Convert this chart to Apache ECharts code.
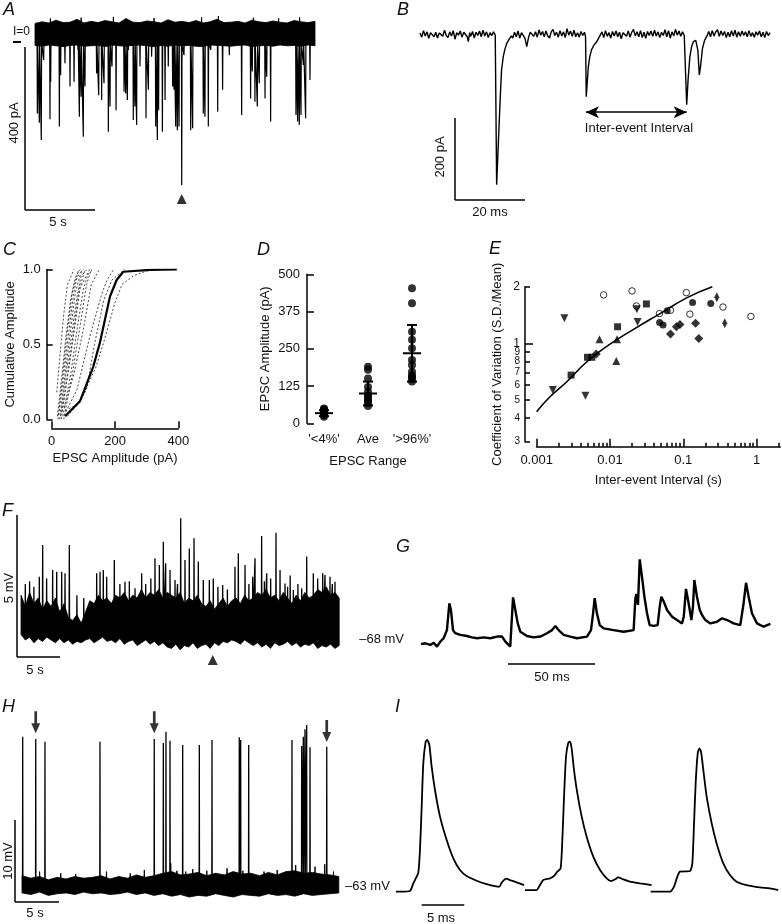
<!DOCTYPE html>
<html><head><meta charset="utf-8">
<script src="https://cdn.jsdelivr.net/npm/echarts@6/dist/echarts.min.js"></script>
<style>html,body{margin:0;padding:0;background:#fff}#c{width:782px;height:924px}</style>
</head><body><div id="c"></div>
<script>
// ---------------- DATA ----------------
// Panel A: EPSC events (time s, amplitude pA), noise band edges every 0.5 s
const aEvents = [[0.17,-195],[0.31,-218],[0.45,-260],[0.62,-64],[1.07,-209],[1.12,-117],[1.74,-227],[1.83,-101],[2.14,-72],[2.5,-129],[2.79,-117],[3.07,-39],[3.17,-203],[3.29,-154],[3.45,-252],[3.57,-129],[4.4,-97],[4.55,-150],[4.76,-162],[4.93,-121],[5.24,-240],[5.36,-178],[5.5,-80],[5.79,-187],[6.36,-142],[6.48,-146],[6.6,-162],[6.67,-39],[7.02,-211],[7.14,-178],[7.26,-223],[7.5,-80],[7.93,-207],[8.1,-137],[8.33,-56],[8.62,-227],[8.74,-260],[8.83,-187],[9.1,-240],[9.29,-162],[9.52,-80],[9.83,-129],[9.93,-137],[10.05,-227],[10.17,-236],[10.29,-227],[10.48,-371],[10.64,-52],[11.12,-236],[11.26,-231],[11.67,-31],[12.02,-195],[12.14,-203],[12.38,-227],[12.55,-39],[13.05,-191],[13.4,-137],[13.88,-52],[14.76,-199],[15.4,-158],[15.52,-92],[15.71,-166],[15.88,-178],[16.02,-121],[16.43,-158],[16.55,-105],[16.83,-215],[18.64,-199],[18.76,-215],[18.88,-223],[19.0,-199],[19.17,-76],[19.33,-207],[19.64,-113]];
const aUpSpikes = [[1.1,38],[3.3,40],[5.6,42],[8.5,39],[11.9,41],[13.1,44],[15.6,40],[17.4,39],[18.9,41]];
const aStep = 0.5;
const aUp = [26,30,27,34,28,29,36,27,31,28,33,30,27,38,29,28,32,30,27,35,29,31,28,33,27,30,36,28,29,31,27,34,30,28,32,29,27,33,30,28,31];
const aLow = [-28,-30,-27,-29,-31,-28,-27,-30,-29,-28,-31,-27,-29,-30,-28,-27,-29,-31,-28,-30,-27,-29,-28,-30,-31,-27,-28,-29,-30,-28,-27,-31,-29,-28,-30,-27,-29,-28,-30,-27,-29];
const aArrow = [10.48, -405];

// Panel B: trace (ms, pA)
const bTrace = [[0,3],[0.5,-7],[1,9],[1.5,-4],[2,6],[2.5,-10],[3,4],[3.5,8],[4,-6],[4.5,5],[5,-9],[5.5,3],[6,7],[6.5,-5],[7,10],[7.5,-3],[8,-8],[8.5,6],[9,-4],[9.5,9],[10,-12],[10.5,4],[11,-2],[11.5,8],[12,-7],[12.5,5],[13,9],[13.5,-6],[13.8,-18],[14.2,4],[14.5,-5],[15,7],[15.5,-9],[16,5],[16.5,-3],[17,8],[17.5,-6],[18,10],[18.5,-4],[19,6],[19.5,-8],[20,4],[20.5,-3],[21,6],[21.5,-2],
[21.7,-4],[21.9,-367],[22.5,-241],[22.9,-160],[23.3,-87],[23.8,-54],[24.3,-35],[24.8,-22],[25.2,-16],[25.7,-12],[26.1,-4],[26.5,-9],
[27,5],[27.5,-6],[28,8],[28.5,-9],[29,4],[29.5,7],[30,-10],[30.5,-30],[31,-8],[31.5,5],[32,9],[32.5,-5],[33,6],[33.5,-7],[34,11],[34.5,-2],[35,7],[35.5,-6],[36,8],[36.5,-4],[37,-9],[37.5,6],[38,12],[38.5,-3],[39,5],[39.5,-7],[40,9],[40.5,-4],[41,6],[41.5,-8],[42,14],[42.5,-2],[43,8],[43.5,-5],[44,10],[44.5,-6],[45,4],[45.5,-7],[46,7],[46.5,-3],[47,5],
[47.3,-6],[47.5,-152],[48.1,-79],[48.5,-55],[49,-38],[49.7,-26],[50.5,-18],[51,-10],[51.5,-6],
[52,6],[52.5,-8],[53,9],[53.5,-5],[54,4],[54.5,-9],[55,7],[55.5,-4],[56,8],[56.5,-6],[57,5],[57.5,-11],[58,4],[58.5,7],[59,-5],[59.5,8],[60,-7],[60.5,5],[61,12],[61.5,-4],[62,6],[62.5,-6],[63,9],[63.5,-8],[64,5],[64.5,-10],[65,7],[65.5,-3],[66,8],[66.5,-5],[67,10],[67.5,-4],[68,6],[68.5,-8],[69,5],[69.5,-3],[70,11],[70.5,-6],[71,9],[71.5,-9],[72,6],[72.5,-4],[73,12],[73.5,-2],[74,8],[74.5,-5],[75,6],[75.5,-3],
[76.0,-5],[76.2,-172],[76.6,-110],[77.1,-55],[77.6,-30],[78.1,-18],[78.8,-15],[79.4,-40],[79.8,-99],[80.2,-75],[80.7,-35],[81.3,-15],[82,-4],
[82.5,7],[83,-6],[83.5,9],[84,-4],[84.5,6],[85,11],[85.5,-5],[86,8],[86.5,-3],[87,7],[87.5,-8],[88,5],[88.5,-6],[89,9],[89.5,-4],[90,10],[90.5,-7],[91,6],[91.5,-5],[92,8],[92.5,-3],[93,6],[93.5,-6],[94,9],[94.5,-5],[95,4],[95.5,-7],[96,6],[96.5,-2],[97,8],[97.5,-6],[98,5],[98.5,-8],[99,7],[99.5,-3],[100,4]];
const bArrow = [47.4, 76.2];
const bArrowY = -190;

// Panel C: cumulative amplitude curves (pA, fraction)
const cDashed = [
 [[16,0.18],[25,0.4],[38,0.7],[50,0.9],[70,1.0]],
 [[18,0.02],[30,0.25],[45,0.55],[60,0.8],[75,0.95],[90,1.0]],
 [[20,0],[35,0.3],[50,0.6],[65,0.85],[85,1.0]],
 [[22,0.03],[38,0.3],[55,0.6],[70,0.85],[80,0.95],[100,1.0]],
 [[25,0],[42,0.3],[60,0.6],[75,0.85],[95,1.0]],
 [[28,0.02],[45,0.3],[62,0.55],[80,0.82],[92,0.95],[110,1.0]],
 [[30,0],[50,0.3],[70,0.6],[85,0.85],[105,1.0]],
 [[32,0.05],[55,0.35],[75,0.65],[90,0.88],[120,1.0]],
 [[35,0.02],[60,0.3],[80,0.6],[100,0.87],[115,0.97],[130,1.0]],
 [[38,0],[65,0.3],[88,0.6],[110,0.9],[125,1.0]],
 [[40,0.08],[70,0.3],[100,0.6],[125,0.9],[150,1.0]],
 [[45,0.05],[80,0.2],[120,0.55],[160,0.85],[175,0.93],[195,1.0]],
 [[50,0.02],[90,0.12],[140,0.35],[165,0.52],[200,0.78],[222,0.9],[260,0.96],[300,0.99],[330,1.0]],
 [[42,0.06],[85,0.1],[110,0.2],[135,0.5],[165,0.8],[190,0.93],[230,1.0]]
];
const cBold = [[42,0.02],[89,0.12],[131,0.35],[152,0.51],[184,0.82],[205,0.93],[226,0.985],[310,0.997],[395,1.0]];

// Panel D: EPSC amplitude by range
const dCats = ["'<4%'", "Ave", "'>96%'"];
const dLow = [22,28,34,45,50,47,36,38,31,30];
const dAve = [190,180,150,122,105,92,88,80,75,68,58];
const dHigh = [453,403,307,280,252,212,196,173,156,140,150,160];
const dMean = [34,100,235];
const dSd = [10,40,95];

// Panel E: CV vs inter-event interval
const eOpen = [[0.0082,1.81],[0.020,1.90],[0.0229,1.58],[0.0473,1.44],[0.067,1.50],[0.110,1.86],[0.123,1.43],[0.348,1.56],[0.836,1.39]];
const eTriDown = [[0.00239,1.36],[0.00166,0.565],[0.00463,0.526],[0.0233,1.52],[0.0238,1.30]];
const eTriUp = [[0.0072,1.05],[0.0125,1.05],[0.0122,0.805]];
const eSquare = [[0.00295,0.678],[0.00494,0.843],[0.00566,0.843],[0.0127,1.225],[0.0314,1.62]];
const eCircle = [[0.0604,1.49],[0.134,1.65],[0.237,1.63],[0.0476,1.29],[0.053,1.25]];
const eDiamond = [[0.0065,0.877],[0.067,1.12],[0.0806,1.225],[0.090,1.26],[0.147,1.28],[0.163,1.06]];
const eThinDiamond = [[0.287,1.76],[0.368,1.28]];
const eFit = [[0.001,0.433],[0.00152,0.520],[0.00258,0.625],[0.00484,0.798],[0.01,0.99],[0.021,1.187],[0.049,1.444],[0.113,1.75],[0.249,2.0]];
const eXMajor = [0.001,0.01,0.1,1];
const eXMinor = [0.002,0.003,0.004,0.005,0.006,0.007,0.008,0.009,0.02,0.03,0.04,0.05,0.06,0.07,0.08,0.09,0.2,0.3,0.4,0.5,0.6,0.7,0.8,0.9,2];
const eYLabels = [0.3,0.4,0.5,0.6,0.7,0.8,0.9,1,2];
const eYMajor = [1];
const eYMinor = [0.3,0.4,0.5,0.6,0.7,0.8,0.9,2];

// Panel F: membrane potential (s, mV above rest)
const fSpikes = [[0.5,2.0],[1.0,2.1],[1.5,1.9],[2.13,2.26],[2.52,3.39],[2.98,2.2],[3.68,2.5],[4.15,2.44],[4.73,2.44],[5.12,2.38],[5.62,3.39],[6.5,1.6],[7.3,1.5],[8.8,2.38],[9.19,2.44],[9.57,2.5],[9.96,2.26],[10.85,2.86],[11.5,2.0],[12.09,2.08],[12.6,2.1],[13.26,1.85],[14.03,2.38],[14.5,2.0],[15.1,2.2],[15.58,2.92],[16.09,2.68],[16.55,3.51],[16.82,2.74],[17.33,2.5],[17.91,2.14],[18.2,2.0],[18.57,4.35],[19.07,2.86],[19.57,3.27],[20.12,3.63],[20.62,2.8],[21.2,2.14],[21.9,2.14],[22.36,2.2],[22.9,1.9],[23.45,1.96],[24.0,1.8],[24.88,2.62],[25.27,3.1],[26.05,2.68],[26.5,2.0],[26.94,2.26],[27.21,2.92],[27.98,3.71],[28.3,2.1],[28.57,2.38],[29.03,2.2],[29.65,3.83],[30.12,2.5],[30.7,2.02],[31.0,1.9],[31.3,2.3],[31.67,1.79],[32.2,2.0],[32.64,1.85],[33.22,2.98],[33.99,2.38],[34.5,2.2],[35.08,2.38],[35.35,2.32],[35.93,2.26],[36.2,2.0],[36.51,2.08]];
const fStep = 0.5;
const fUp = [1.6,1.2,1.7,1.3,1.5,1.1,1.4,1.2,1.5,1.0,1.3,0.8,0.7,0.9,0.6,1.0,1.4,1.3,1.6,1.4,1.5,1.3,1.6,1.5,1.7,1.4,1.6,1.5,1.8,1.5,1.7,1.6,1.8,1.5,1.7,1.6,1.5,1.7,1.3,1.5,1.4,1.6,1.3,1.2,1.4,1.1,1.3,1.5,1.2,1.4,1.5,1.3,1.6,1.4,1.5,1.7,1.6,1.8,1.5,1.6,1.4,1.7,1.5,1.3,1.6,1.4,1.7,1.5,1.6,1.8,1.7,1.9,1.6,1.7,1.5];
const fLow = [0.2,0.0,0.1,-0.1,0.05,-0.05,0.1,0.0,-0.1,0.05,-0.1,0.0,-0.15,-0.05,-0.1,0.0,0.05,-0.1,0.0,0.1,-0.05,0.0,-0.1,0.05,-0.15,-0.05,0.0,-0.2,-0.1,0.0,-0.15,-0.05,-0.2,-0.1,-0.25,-0.3,-0.15,-0.35,-0.2,-0.25,-0.1,-0.3,-0.2,-0.15,-0.3,-0.1,-0.2,-0.05,-0.1,0.0,-0.05,-0.15,0.0,-0.1,-0.2,-0.1,-0.25,-0.15,-0.3,-0.1,-0.2,-0.15,-0.05,-0.2,-0.1,-0.25,-0.15,-0.2,-0.1,-0.3,-0.2,-0.25,-0.15,-0.3,-0.2];
const fArrow = [22.3, -0.71];

// Panel G: expanded trace (ms, mV)
const gTrace = [[0,-68.04],[2.5,-68.01],[5.4,-68.07],[7.3,-67.99],[9.2,-68.13],[11.1,-67.95],[13.0,-67.83],[14.9,-67.54],[16.3,-66.58],[17.2,-66.82],[18.4,-67.54],[19.7,-67.65],[22.6,-67.71],[26.4,-67.75],[29.3,-67.80],[32.2,-67.83],[36.0,-67.80],[39.8,-67.83],[43.7,-67.77],[46.6,-67.77],[48.5,-67.95],[51.3,-68.13],[52.9,-66.37],[54.2,-66.82],[55.6,-67.30],[57.1,-67.60],[60.9,-67.75],[64.8,-67.80],[68.6,-67.77],[72.4,-67.65],[75.3,-67.54],[77.2,-67.39],[79.1,-67.54],[82.0,-67.71],[85.8,-67.77],[89.7,-67.83],[95.4,-67.77],[97.7,-67.54],[98.9,-66.94],[99.8,-66.40],[101.1,-66.94],[102.7,-67.36],[105.0,-67.48],[110.7,-67.54],[116.5,-67.60],[122.2,-67.54],[123.2,-66.40],[123.8,-66.25],[124.7,-66.64],[125.7,-65.01],[127.0,-65.63],[128.4,-66.35],[129.9,-66.94],[131.4,-67.36],[133.7,-67.39],[136.0,-67.36],[137.2,-66.70],[138.1,-66.35],[139.5,-66.52],[141.4,-66.82],[144.3,-67.06],[147.1,-67.18],[150.0,-67.30],[151.0,-67.06],[152.3,-66.07],[153.8,-66.58],[155.4,-67.18],[156.3,-66.70],[157.1,-65.75],[158.6,-66.35],[160.2,-66.82],[161.5,-67.00],[163.4,-67.18],[166.3,-67.30],[170.1,-67.24],[173.0,-67.12],[175.9,-67.18],[179.7,-67.30],[183.5,-67.36],[185.4,-66.58],[186.8,-65.85],[188.3,-66.35],[190.2,-66.94],[193.1,-67.30],[196.9,-67.42],[198.9,-67.36],[200.8,-67.32]];

// Panel H: spikes (s, mV)
const hSpikes = [[0.08,-44.55],[1.56,-44.83],[2.61,-45.16],[8.86,-45.16],[15.03,-44.83],[16.06,-45.32],[16.36,-43.94],[16.82,-45.04],[18.26,-45.56],[20.15,-45.56],[21.59,-44.95],[24.69,-44.62],[24.85,-44.95],[25.76,-45.56],[30.68,-44.95],[31.78,-45.68],[31.97,-44.55],[32.16,-43.65],[32.35,-43.12],[32.73,-45.84],[34.63,-45.77]];
const hNoise = [[2.0,-61.0],[4.4,-61.2],[6.1,-61.3],[9.6,-61.0],[12.3,-61.2],[13.9,-60.8],[16.9,-60.0],[17.6,-60.9],[18.6,-61.0],[19.4,-60.7],[21.0,-60.9],[23.3,-60.6],[25.1,-60.9],[27.5,-61.0],[29.0,-60.8],[31.1,-60.2],[33.3,-60.4],[34.4,-60.1],[35.4,-61.0]];
const hStep = 1;
const hUp = [-61.5,-61.8,-61.6,-62.0,-61.7,-61.9,-61.6,-61.8,-61.7,-61.5,-61.9,-61.6,-61.8,-61.4,-61.7,-61.5,-61.2,-61.0,-61.4,-61.3,-61.1,-61.5,-61.2,-61.4,-61.0,-61.3,-61.2,-61.5,-61.1,-61.4,-61.0,-60.9,-61.2,-61.1,-61.3,-61.4,-61.6];
const hLow = [-63.6,-63.8,-63.5,-63.9,-63.7,-63.6,-63.8,-63.5,-63.7,-63.6,-63.8,-63.7,-63.5,-63.8,-63.6,-63.9,-63.7,-64.0,-63.8,-64.1,-63.9,-64.0,-63.7,-63.9,-64.1,-63.8,-63.9,-64.0,-63.7,-63.9,-63.8,-64.0,-63.7,-63.9,-63.8,-63.7,-63.6];
const hArrows = [[1.56,-42.8],[15.03,-42.8],[34.63,-43.85]];

// Panel I: action potentials (ms, mV)
const iAp1 = [[0,-63.0],[0.47,-63.0],[1.64,-62.92],[2.03,-61.98],[2.42,-61.17],[2.62,-60.68],[2.81,-57.92],[3.01,-52.63],[3.20,-47.35],[3.48,-44.71],[3.67,-44.50],[3.91,-45.11],[4.18,-47.76],[4.57,-50.60],[5.16,-53.85],[5.94,-56.70],[6.72,-58.93],[7.50,-60.36],[8.28,-61.09],[9.46,-61.66],[10.63,-62.07],[12.11,-62.39],[12.39,-61.90],[12.90,-61.41],[13.36,-61.58],[14.14,-61.86],[15.01,-62.19]];
const iAp2 = [[15.12,-62.80],[16.49,-62.80],[16.88,-62.19],[17.27,-61.58],[18.05,-61.37],[18.52,-61.09],[18.91,-60.56],[19.30,-60.15],[19.50,-56.70],[19.70,-51.41],[19.93,-46.54],[20.20,-44.83],[20.40,-44.71],[20.59,-45.52],[20.87,-48.16],[21.26,-51.01],[21.77,-53.85],[22.35,-56.29],[23.13,-58.73],[23.92,-60.36],[24.70,-61.37],[25.21,-61.70],[25.67,-61.50],[26.06,-61.25],[26.65,-61.50],[27.43,-61.78],[28.60,-61.98],[29.97,-62.19]];
const iAp3 = [[29.86,-63.0],[32.12,-63.0],[32.59,-62.39],[32.98,-61.17],[33.29,-60.56],[34.47,-60.48],[34.74,-59.54],[34.94,-54.67],[35.13,-49.79],[35.37,-46.13],[35.56,-45.52],[35.76,-45.93],[36.03,-48.16],[36.42,-51.41],[37.01,-54.67],[37.59,-57.11],[38.37,-59.54],[39.15,-60.97],[39.93,-61.78],[41.10,-62.19],[42.66,-62.47],[43.83,-62.59],[44.81,-62.80]];

// ---------------- CHART ----------------
const FONT = '"Liberation Sans", Arial, Helvetica, sans-serif';
const INK = '#111';
const chart = echarts.init(document.getElementById('c'), null, {renderer:'canvas'});

function hidden(gi, min, max){ return {type:'value', gridIndex:gi, min:min, max:max, show:false, splitLine:{show:false}}; }
function lineS(gi, data, w, extra){ return {type:'line', xAxisIndex:gi, yAxisIndex:gi, data:data, showSymbol:false, symbol:'none', silent:true, lineStyle:Object.assign({color:'#000', width:w}, extra||{})}; }
function spikes(list, base, dt){ const s = list.slice().sort((a,b)=>a[0]-b[0]); const out=[]; s.forEach(e=>{ out.push([e[0]-dt, base],[e[0], e[1]],[e[0]+dt, base]); }); return out; }
function band(gi, step, up, low){
  return {type:'custom', xAxisIndex:gi, yAxisIndex:gi, silent:true, data:[[0, up[0]]], encode:{x:0,y:1},
    renderItem:function(params, api){
      const pts=[];
      for (let i=0;i<up.length;i++) pts.push(api.coord([i*step, up[i]]));
      for (let i=low.length-1;i>=0;i--) pts.push(api.coord([i*step, low[i]]));
      return {type:'polygon', shape:{points:pts}, style:{fill:'#000', stroke:'#000', lineWidth:0.8}};
    }};
}
const axLine = {show:true, onZero:false, lineStyle:{color:'#000', width:1.5}};
const tickSt = {color:'#000', width:1.5};
const lab = {color:INK, fontSize:13, fontFamily:FONT};
const nameSt = {color:INK, fontSize:13, fontFamily:FONT};

const grids = [
 {left:35, top:9.55, width:280, height:203.75},
 {left:420, top:17.9, width:350, height:180.4},
 {left:51.7, top:269.5, width:126.7, height:149.8},
 {left:302, top:274.3, width:132, height:149},
 {left:536.5, top:286.7, width:243.7, height:155.1},
 {left:21, top:514, width:318.2, height:154},
 {left:421, top:545, width:348, height:112},
 {left:22, top:699.4, width:316.8, height:213.2},
 {left:396, top:719.5, width:383.85, height:180.4}
].map(g => Object.assign({show:false, containLabel:false, outerBoundsMode:'none'}, g));

const xAxes = [
 hidden(0,0,20), hidden(1,0,100),
 {type:'value', gridIndex:2, min:0, max:400, interval:200, offset:9, axisLine:axLine,
  axisTick:{show:true, inside:true, length:7, lineStyle:tickSt}, axisLabel:Object.assign({margin:7}, lab),
  splitLine:{show:false}, name:'EPSC Amplitude (pA)', nameLocation:'middle', nameGap:24, nameTextStyle:nameSt},
 {type:'category', gridIndex:3, data:dCats, axisLine:{show:false}, axisTick:{show:false},
  axisLabel:Object.assign({margin:10, interval:0}, lab), splitLine:{show:false},
  name:'EPSC Range', nameLocation:'middle', nameGap:32, nameTextStyle:nameSt},
 {type:'log', gridIndex:4, position:'bottom', min:0.000995, max:2.1, offset:5, axisLine:axLine,
  axisTick:{show:true, inside:true, length:8, customValues:eXMajor, lineStyle:tickSt},
  axisLabel:Object.assign({margin:7, customValues:eXMajor, formatter:v=>String(+v.toPrecision(3))}, lab),
  splitLine:{show:false}, minorTick:{show:false},
  name:'Inter-event Interval (s)', nameLocation:'middle', nameGap:27, nameTextStyle:nameSt},
 hidden(5,0,37), hidden(6,0,200), hidden(7,0,36), hidden(8,0,45),
 {type:'log', gridIndex:4, position:'bottom', min:0.000995, max:2.1, offset:5, axisLine:{show:false},
  axisTick:{show:true, inside:true, length:4, customValues:eXMinor, lineStyle:tickSt},
  axisLabel:{show:false}, splitLine:{show:false}}
];
const yAxes = [
 hidden(0,-440,60), hidden(1,-400,40),
 {type:'value', gridIndex:2, min:0, max:1, interval:0.5, offset:5, axisLine:axLine,
  axisTick:{show:true, inside:true, length:6, lineStyle:tickSt},
  axisLabel:Object.assign({margin:6, formatter:v=>v.toFixed(1)}, lab), splitLine:{show:false},
  name:'Cumulative Amplitude', nameLocation:'middle', nameGap:30, nameTextStyle:nameSt},
 {type:'value', gridIndex:3, min:0, max:500, interval:125, offset:-5, axisLine:axLine,
  axisTick:{show:true, inside:true, length:7, lineStyle:tickSt},
  axisLabel:Object.assign({margin:7}, lab), splitLine:{show:false},
  name:'EPSC Amplitude (pA)', nameLocation:'middle', nameGap:35, nameTextStyle:nameSt},
 {type:'log', gridIndex:4, position:'left', min:0.2995, max:2.001, offset:11.5, axisLine:axLine,
  axisTick:{show:true, inside:true, length:8, customValues:eYMajor, lineStyle:tickSt},
  axisLabel:{margin:5, customValues:eYLabels, color:INK,
    formatter:v=> v>=1 ? '{a|'+Math.round(v)+'}' : '{b|'+Math.round(v*10)+'}',
    rich:{a:{fontSize:12, fontFamily:FONT, color:INK}, b:{fontSize:10, fontFamily:FONT, color:INK}}},
  splitLine:{show:false}, minorTick:{show:false},
  name:'Coefficient of Variation (S.D./Mean)', nameLocation:'middle', nameGap:21, nameTextStyle:nameSt},
 hidden(5,-1,4.5), hidden(6,-68.5,-64.5), hidden(7,-66,-40), hidden(8,-64,-42),
 {type:'log', gridIndex:4, position:'left', min:0.2995, max:2.001, offset:11.5, axisLine:{show:false},
  axisTick:{show:true, inside:true, length:5, customValues:eYMinor, lineStyle:tickSt},
  axisLabel:{show:false}, splitLine:{show:false}}
];

const S = [];
// A
S.push(band(0, aStep, aUp, aLow));
S.push(lineS(0, spikes(aEvents, -20, 0.02), 1.2));
S.push(lineS(0, spikes(aUpSpikes, 20, 0.02), 1));
S.push({type:'scatter', xAxisIndex:0, yAxisIndex:0, data:[aArrow], symbol:'triangle', symbolSize:[10,10], itemStyle:{color:'#000'}, silent:true});
// B
const bS = lineS(1, bTrace, 1.4);
bS.markLine = {silent:true, symbol:['arrow','arrow'], symbolSize:[9,13], animation:false,
  lineStyle:{color:'#000', width:1.5, type:'solid'}, label:{show:false},
  data:[[{coord:[bArrow[0], bArrowY]},{coord:[bArrow[1], bArrowY]}]]};
S.push(bS);
// C
cDashed.forEach(d => S.push(lineS(2, d, 0.9, {type:[2,2], color:'#333'})));
S.push(lineS(2, cBold, 2.2));
// D
[dLow, dAve, dHigh].forEach((arr, i) => S.push({type:'scatter', xAxisIndex:3, yAxisIndex:3, silent:true,
  data:arr.map(v=>[i, v]), symbol:'circle', symbolSize:8, itemStyle:{color:'#000'}}));
S.push({type:'custom', xAxisIndex:3, yAxisIndex:3, silent:true, encode:{x:0,y:1},
  data:dCats.map((c,i)=>[i, dMean[i], dSd[i]]),
  renderItem:function(params, api){
    const x=api.value(0), m=api.value(1), s=api.value(2);
    const pm=api.coord([x,m]), pt=api.coord([x,m+s]), pb=api.coord([x,m-s]);
    const st={stroke:'#000', lineWidth:2};
    return {type:'group', children:[
      {type:'line', shape:{x1:pt[0],y1:pt[1],x2:pb[0],y2:pb[1]}, style:st},
      {type:'line', shape:{x1:pt[0]-5,y1:pt[1],x2:pt[0]+5,y2:pt[1]}, style:st},
      {type:'line', shape:{x1:pb[0]-5,y1:pb[1],x2:pb[0]+5,y2:pb[1]}, style:st},
      {type:'line', shape:{x1:pm[0]-9,y1:pm[1],x2:pm[0]+9,y2:pm[1]}, style:st}]};
  }});
// E
S.push(Object.assign(lineS(4, eFit, 1.6), {smooth:true}));
function eSc(data, symbol, size, extra){ return Object.assign({type:'scatter', xAxisIndex:4, yAxisIndex:4, silent:true, data:data, symbol:symbol, symbolSize:size, itemStyle:{color:'#000'}}, extra||{}); }
S.push(eSc(eOpen, 'circle', 6.5, {itemStyle:{color:'#fff', borderColor:'#000', borderWidth:1}}));
S.push(eSc(eTriDown, 'triangle', 8, {symbolRotate:180}));
S.push(eSc(eTriUp, 'triangle', 8));
S.push(eSc(eSquare, 'rect', 7));
S.push(eSc(eCircle, 'circle', 7));
S.push(eSc(eDiamond, 'diamond', 9));
S.push(eSc(eThinDiamond, 'diamond', [5,10]));
// F
S.push(band(5, fStep, fUp, fLow));
S.push(lineS(5, spikes(fSpikes, 0.4, 0.03), 1.3));
S.push({type:'scatter', xAxisIndex:5, yAxisIndex:5, data:[fArrow], symbol:'triangle', symbolSize:[10,10], itemStyle:{color:'#000'}, silent:true});
// G
S.push(lineS(6, gTrace, 2.4));
// H
S.push(band(7, hStep, hUp, hLow));
S.push(lineS(7, spikes(hNoise, -62.5, 0.05), 1));
S.push(lineS(7, spikes(hSpikes, -62.8, 0.02), 1.3));
S.push({type:'scatter', xAxisIndex:7, yAxisIndex:7, data:hArrows, silent:true,
  symbol:'path://M3.5,0 L6.5,0 L6.5,12 L10,12 L5,22 L0,12 L3.5,12 Z', symbolSize:[9,22], itemStyle:{color:'#000'}});
// I
[iAp1, iAp2, iAp3].forEach(d => S.push(Object.assign(lineS(8, d, 1.8), {smooth:0.2})));

// graphic: panel letters, scale bars and their labels
function T(x, y, text, o){ o=o||{}; const al=o.align||'center', va=o.va||'middle';
  return {type:'text', x:x, y:y, rotation:o.rot||0, silent:true,
    style:{text:text, fill:INK, font:(o.italic?'italic ':'')+(o.size||13)+'px '+FONT, textAlign:al, textVerticalAlign:va, align:al, verticalAlign:va}}; }
function L(x1,y1,x2,y2,w){ return {type:'line', silent:true, shape:{x1:x1,y1:y1,x2:x2,y2:y2}, style:{stroke:'#000', lineWidth:w||1.5}}; }
const R = Math.PI/2;
const G = [];
[['A',3,1],['B',397,1],['C',3,241],['D',257,241],['E',489,240],['F',2,502],['G',396,538],['H',2,698],['I',395,698]]
  .forEach(l => G.push(T(l[1], l[2], l[0], {italic:true, size:18, align:'left', va:'top'})));
G.push(T(13, 31.5, 'I=0', {align:'left', size:12}), L(13,42,21,42,2));
G.push(L(25,47,25,210), L(25,210,95,210), T(14,123,'400 pA',{rot:R}), T(58,222,'5 s'));
G.push(L(455,118,455,200), L(455,200,525,200), T(440,157,'200 pA',{rot:R}), T(490,212,'20 ms'), T(639,128,'Inter-event Interval'));
G.push(L(17,515,17,657), L(17,657,60,657), T(9,588,'5 mV',{rot:R}), T(35,670,'5 s'));
G.push(T(404,639,'–68 mV',{align:'right'}), L(508,664,595,664), T(552,677,'50 ms'));
G.push(L(15,820,15,902), L(15,902,59,902), T(8,861,'10 mV',{rot:R}), T(35,913,'5 s'), T(345,886,'–63 mV',{align:'left'}));
G.push(L(421.7,905,464.3,905), T(441,918,'5 ms'));

chart.setOption({
  animation:false, backgroundColor:'#fff',
  textStyle:{fontFamily:FONT},
  grid:grids, xAxis:xAxes, yAxis:yAxes, series:S, graphic:{elements:G}
});
</script></body></html>
